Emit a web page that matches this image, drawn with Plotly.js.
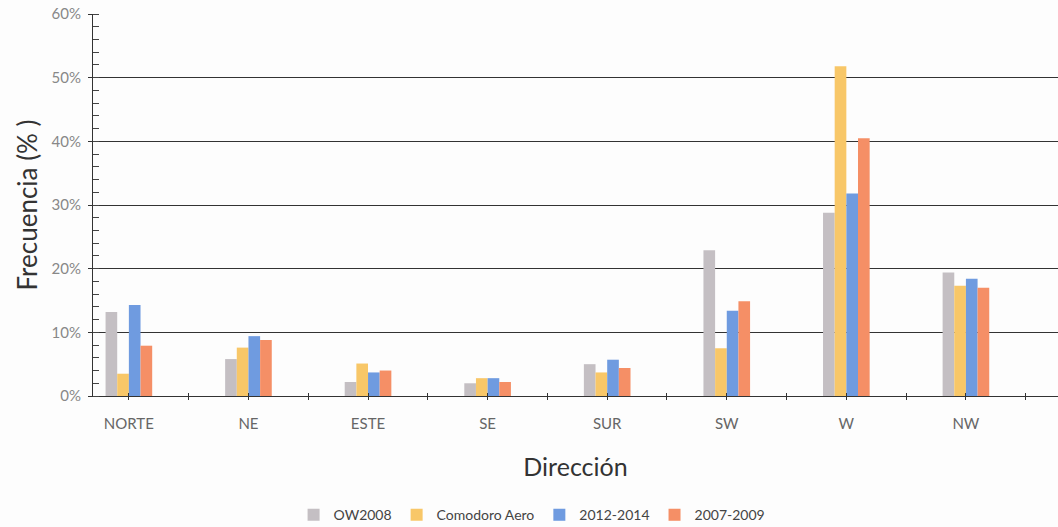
<!DOCTYPE html>
<html>
<head>
<meta charset="utf-8">
<script src="https://cdn.plot.ly/plotly-3.0.1.min.js"></script>
<style>
  html, body { margin: 0; padding: 0; background: #fdfdfd; }
  #chart { width: 1058px; height: 527px; }
</style>
</head>
<body>
<div id="chart"></div>
<script>
// Wind direction frequency (%) per dataset
const directions = ['NORTE', 'NE', 'ESTE', 'SE', 'SUR', 'SW', 'W', 'NW'];
const ow2008     = [13.2, 5.8, 2.2, 2.0, 5.0, 22.9, 28.8, 19.4];
const comodoro   = [3.5, 7.6, 5.1, 2.8, 3.7, 7.5, 51.8, 17.3];
const p2012_2014 = [14.3, 9.4, 3.7, 2.8, 5.7, 13.4, 31.8, 18.4];
const p2007_2009 = [7.9, 8.8, 4.0, 2.2, 4.4, 14.9, 40.5, 17.0];

const seriesNames  = ['OW2008', 'Comodoro Aero', '2012-2014', '2007-2009'];
const seriesValues = [ow2008, comodoro, p2012_2014, p2007_2009];
const seriesColors = ['#c4bfc3', '#f8c768', '#6f9be0', '#f58f66'];

const FONT = 'Lato, "Open Sans", sans-serif';
const xRange = [-0.3, 7.77];

const traces = seriesValues.map((vals, i) => ({
  type: 'bar',
  name: seriesNames[i],
  x: directions,
  y: vals,
  marker: { color: seriesColors[i], line: { width: 0 } },
  hoverinfo: 'x+y+name'
}));

// empty traces so the half-step tick overlays get drawn
traces.push({ type: 'scatter', x: [], y: [], xaxis: 'x2', showlegend: false, hoverinfo: 'skip' });
traces.push({ type: 'scatter', x: [], y: [], xaxis: 'x3', showlegend: false, hoverinfo: 'skip' });

const tickOverlay = (side) => ({
  overlaying: 'x',
  anchor: 'y',
  type: 'linear',
  range: xRange,
  tick0: 0,
  dtick: 0.5,
  ticks: side,
  ticklen: 3,
  tickwidth: 1,
  tickcolor: '#333',
  showticklabels: false,
  showgrid: false,
  zeroline: false,
  showline: false,
  automargin: false
});

const layout = {
  width: 1058,
  height: 527,
  paper_bgcolor: '#fdfdfd',
  plot_bgcolor: '#fdfdfd',
  margin: { l: 93, r: 0, t: 14, b: 131, autoexpand: false },
  barmode: 'group',
  bargap: 0.61,
  bargroupgap: 0,
  font: { family: FONT, color: '#555' },
  xaxis: {
    type: 'category',
    categoryorder: 'array',
    categoryarray: directions,
    range: xRange,
    automargin: false,
    ticks: '',
    ticklabelstandoff: 14,
    showline: true,
    linecolor: '#333',
    linewidth: 1,
    showgrid: false,
    tickfont: { family: FONT, size: 15, color: '#666' },
    title: { text: 'Dirección', font: { family: FONT, size: 25, color: '#333' }, standoff: 27 }
  },
  xaxis2: tickOverlay('outside'),
  xaxis3: tickOverlay('inside'),
  yaxis: {
    range: [0, 60],
    dtick: 10,
    ticksuffix: '%',
    automargin: false,
    showline: true,
    linecolor: '#333',
    linewidth: 1,
    showgrid: true,
    gridcolor: '#333',
    gridwidth: 1,
    zeroline: false,
    ticks: 'outside',
    ticklen: 4,
    tickcolor: '#333',
    ticklabelstandoff: 4,
    minor: { dtick: 2, ticks: 'inside', ticklen: 6, tickcolor: '#444', showgrid: false },
    tickfont: { family: FONT, size: 15, color: '#888' },
    title: { text: 'Frecuencia (% )', font: { family: FONT, size: 26, color: '#333' }, standoff: 6 }
  },
  legend: {
    orientation: 'h',
    x: 0.455,
    xanchor: 'center',
    y: -0.312,
    yanchor: 'middle',
    font: { family: FONT, size: 14, color: '#444' },
    itemwidth: 30,
    traceorder: 'normal',
    bgcolor: 'rgba(0,0,0,0)'
  },
  showlegend: true
};

Plotly.newPlot('chart', traces, layout, { displayModeBar: false, staticPlot: true });
</script>
</body>
</html>
